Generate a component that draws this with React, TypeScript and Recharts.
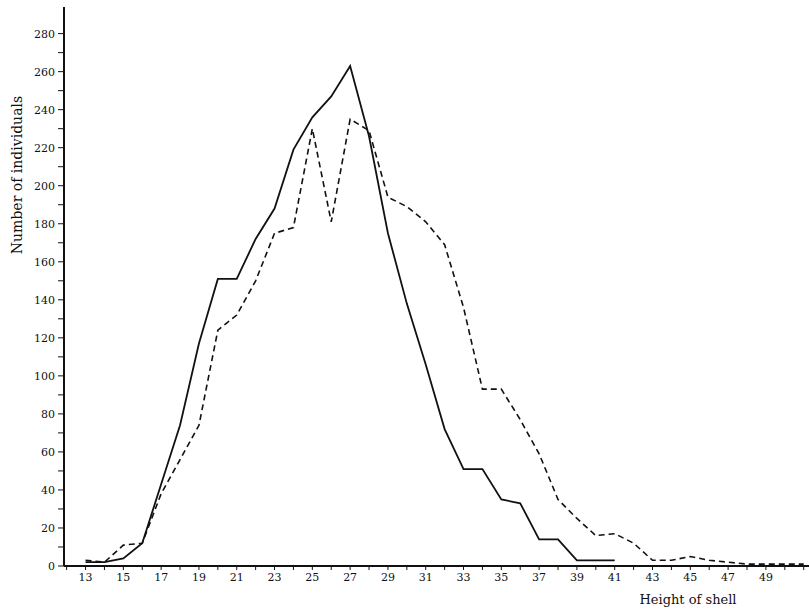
import React from "react";
import { LineChart, Line, XAxis, YAxis } from "recharts";

// shell height classes (mm)
const heights = [
  13, 14, 15, 16, 17, 18, 19, 20, 21, 22, 23, 24, 25, 26, 27, 28, 29, 30, 31, 32,
  33, 34, 35, 36, 37, 38, 39, 40, 41, 42, 43, 44, 45, 46, 47, 48, 49, 50, 51,
];

// solid curve (13..41)
const solidCounts = [
  2, 2, 4, 12, 43, 74, 117, 151, 151, 172, 188, 219, 236, 247, 263, 226, 175,
  138, 106, 72, 51, 51, 35, 33, 14, 14, 3, 3, 3,
];

// dashed curve (13..51)
const dashedCounts = [
  3, 2, 11, 12, 38, 56, 74, 124, 132, 150, 175, 178, 230, 181, 235, 229, 194,
  189, 181, 169, 136, 93, 93, 77, 59, 35, 25, 16, 17, 12, 3, 3, 5, 3, 2, 1, 1,
  1, 1,
];

const xTicks = [
  12, 13, 14, 15, 16, 17, 18, 19, 20, 21, 22, 23, 24, 25, 26, 27, 28, 29, 30, 31,
  32, 33, 34, 35, 36, 37, 38, 39, 40, 41, 42, 43, 44, 45, 46, 47, 48, 49, 50, 51,
];
const xLabelled = [13, 15, 17, 19, 21, 23, 25, 27, 29, 31, 33, 35, 37, 39, 41, 43, 45, 47, 49];
const yTicks = [
  0, 10, 20, 30, 40, 50, 60, 70, 80, 90, 100, 110, 120, 130, 140, 150, 160, 170,
  180, 190, 200, 210, 220, 230, 240, 250, 260, 270, 280,
];

const data = heights.map((h, i) => ({
  h,
  solid: i < solidCounts.length ? solidCounts[i] : null,
  dashed: dashedCounts[i],
}));

const FONT = "'DejaVu Serif', serif";

const XTick = (props: any) => {
  const { x, y, payload } = props;
  if (!xLabelled.includes(payload.value)) return null;
  return (
    <text x={x} y={y} dy="0.71em" textAnchor="middle" fontSize={11} fontFamily={FONT} fill="#111">
      {payload.value}
    </text>
  );
};

const YTick = (props: any) => {
  const { x, y, payload } = props;
  if (payload.value % 20 !== 0) return null;
  return (
    <text x={x} y={y} dy="0.355em" textAnchor="end" fontSize={11} fontFamily={FONT} fill="#111">
      {payload.value}
    </text>
  );
};

const XTitle = (props: any) => {
  const { viewBox } = props;
  return (
    <text
      x={viewBox.x + viewBox.width - 121}
      y={viewBox.y + 38}
      textAnchor="middle"
      fontSize={13}
      fontFamily={FONT}
      fill="#111"
    >
      Height of shell
    </text>
  );
};

const YTitle = (props: any) => {
  const { viewBox } = props;
  const cx = 17;
  const cy = viewBox.y + 168;
  return (
    <text
      x={cx}
      y={cy}
      transform={`rotate(-90, ${cx}, ${cy})`}
      textAnchor="middle"
      dominantBaseline="central"
      fontSize={14}
      fontFamily={FONT}
      fill="#111"
    >
      Number of individuals
    </text>
  );
};

export default function App() {
  return (
    <div style={{ width: 809, height: 613, background: "#fff" }}>
      <style>{"body{margin:0}"}</style>
      <LineChart
        width={809}
        height={613}
        data={data}
        margin={{ top: 7, right: 0, left: 0, bottom: 17 }}
      >
        <XAxis
          dataKey="h"
          type="number"
          domain={[11.86, 51.28]}
          ticks={xTicks}
          allowDataOverflow
          interval={0}
          height={30}
          tickSize={4}
          tickMargin={3}
          tick={<XTick />}
          axisLine={{ stroke: "#111", strokeWidth: 2 }}
          tickLine={{ stroke: "#111", strokeWidth: 1 }}
          label={<XTitle />}
        />
        <YAxis
          type="number"
          domain={[0, 294]}
          ticks={yTicks}
          allowDataOverflow
          interval={0}
          width={64}
          tickSize={6}
          tickMargin={3}
          tick={<YTick />}
          axisLine={{ stroke: "#111", strokeWidth: 2 }}
          tickLine={{ stroke: "#111", strokeWidth: 1 }}
          label={<YTitle />}
        />
        <Line
          dataKey="solid"
          stroke="#111"
          strokeWidth={1.8}
          dot={false}
          isAnimationActive={false}
          connectNulls={false}
        />
        <Line
          dataKey="dashed"
          stroke="#111"
          strokeWidth={1.6}
          strokeDasharray="6 4"
          dot={false}
          isAnimationActive={false}
        />
      </LineChart>
    </div>
  );
}
